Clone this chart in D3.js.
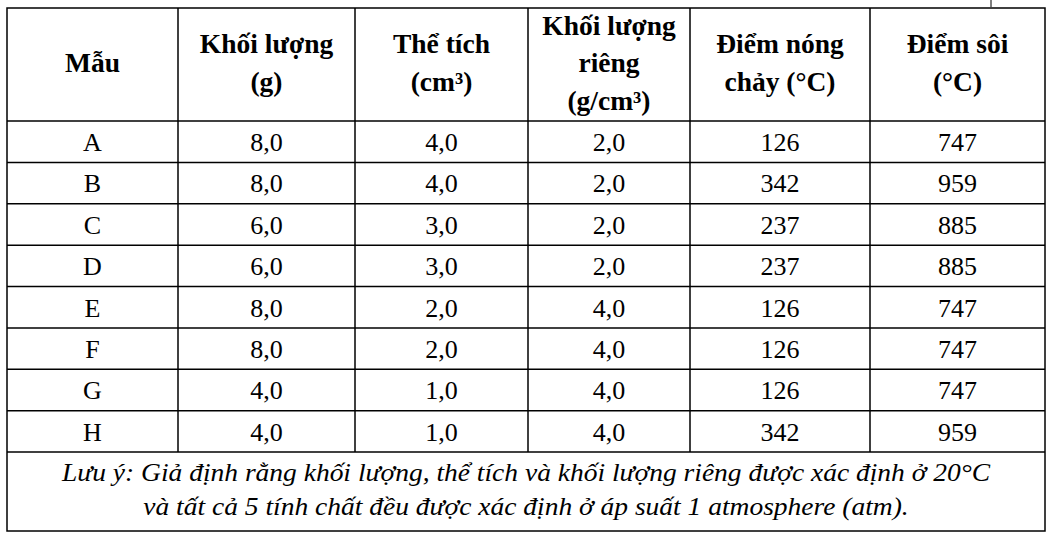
<!DOCTYPE html>
<html><head><meta charset="utf-8">
<script src="https://cdn.jsdelivr.net/npm/d3@7"></script>
<style>html,body{margin:0;padding:0;background:#fff;}</style>
</head><body>
<svg id="c" width="1055" height="538"></svg>
<script>
const headers = [["Mẫu"],["Khối lượng","(g)"],["Thể tích","(cm³)"],["Khối lượng","riêng","(g/cm³)"],["Điểm nóng","chảy (°C)"],["Điểm sôi","(°C)"]];
const samples = ["A","B","C","D","E","F","G","H"];
const mass = [8.0,8.0,6.0,6.0,8.0,8.0,4.0,4.0];
const volume = [4.0,4.0,3.0,3.0,2.0,2.0,1.0,1.0];
const density = [2.0,2.0,2.0,2.0,4.0,4.0,4.0,4.0];
const melting = [126,342,237,237,126,126,126,342];
const boiling = [747,959,885,885,747,747,747,959];
const noteLines = ["Lưu ý: Giả định rằng khối lượng, thể tích và khối lượng riêng được xác định ở 20°C","và tất cả 5 tính chất đều được xác định ở áp suất 1 atmosphere (atm)."];

// layout
const colEdges = [7,178,355,528,690,870,1045];
const tableTop = 8, headerBottom = 121, bodyBottom = 452, footBottom = 531;
const svg = d3.select("#c");
const font = "'Liberation Serif','Times New Roman',serif";
const loc = d3.formatLocale({decimal:",",thousands:".",grouping:[3],currency:["",""]});
const f1 = loc.format(".1f"), f0 = loc.format("d");

const colIdx = d3.range(6);
const xL = d3.scaleOrdinal().domain(colIdx).range(colEdges.slice(0,6));
const xR = d3.scaleOrdinal().domain(colIdx).range(colEdges.slice(1));
const xC = i => (xL(i)+xR(i))/2;
const y = d3.scaleBand().domain(samples).range([headerBottom, bodyBottom]);

const rows = samples.map((s,i)=>[s, f1(mass[i]), f1(volume[i]), f1(density[i]), f0(melting[i]), f0(boiling[i])]);

const g = svg.append("g");
headers.forEach((lines,i)=>{
  const lh = 37.5, base = 72;
  const t = g.append("text").attr("text-anchor","middle")
    .attr("font-family",font).attr("font-weight","bold").attr("font-size",27.5).attr("fill","#000");
  lines.forEach((ln,k)=>{
    t.append("tspan").attr("x",xC(i)).attr("y", base + (k-(lines.length-1)/2)*lh).text(ln);
  });
});
rows.forEach((r,ri)=>{
  r.forEach((v,ci)=>{
    g.append("text").attr("x",xC(ci)).attr("y",y(samples[ri])+30)
      .attr("text-anchor","middle").attr("font-family",font).attr("font-size",26).attr("fill","#000").text(v);
  });
});
const nc = (colEdges[0]+colEdges[6])/2;
const noteBase = [481, 515];
noteLines.forEach((ln,k)=>{
  g.append("text").attr("transform",`translate(${nc},${noteBase[k]}) scale(1.1,1)`)
    .attr("text-anchor","middle").attr("font-family",font).attr("font-style","italic").attr("font-size",25).attr("fill","#000").text(ln);
});

const gl = g.append("g").attr("stroke","#000").attr("stroke-width",1.5).attr("fill","none");
gl.append("rect").attr("x",colEdges[0]).attr("y",tableTop).attr("width",colEdges[6]-colEdges[0]).attr("height",footBottom-tableTop);
colEdges.slice(1,6).forEach(x=>{
  gl.append("line").attr("x1",x).attr("x2",x).attr("y1",tableTop).attr("y2",bodyBottom);
});
[headerBottom, ...samples.slice(1).map(s=>y(s)), bodyBottom].forEach(yy=>{
  gl.append("line").attr("x1",colEdges[0]).attr("x2",colEdges[6]).attr("y1",yy).attr("y2",yy);
});
gl.append("line").attr("x1",991).attr("x2",991).attr("y1",0).attr("y2",7).attr("stroke-width",1);
</script>
</body></html>
